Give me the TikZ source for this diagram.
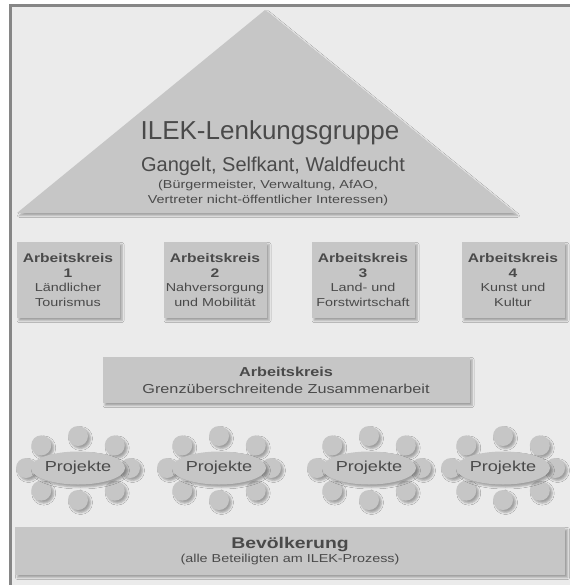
\documentclass[tikz,border=0pt]{standalone}
\usepackage{fontspec}
\setmainfont{Liberation Sans}
\newfontfamily\widesans[FakeStretch=1.25]{Liberation Sans}
\usetikzlibrary{shapes.geometric,shadows.blur}

\definecolor{bggray}{HTML}{EBEBEB}
\definecolor{panelgray}{HTML}{C6C6C6}
\definecolor{framegray}{HTML}{868686}
\definecolor{textgray}{HTML}{4A4A4A}

\newcommand{\aktitle}[1]{{\fontsize{12.5}{14.5}\selectfont\textbf{#1}}}

\tikzset{
	panel/.style={fill=panelgray, blur shadow={shadow xshift=2.5pt, shadow yshift=-2.5pt, shadow blur radius=2pt, shadow opacity=32}},
	akbox/.style={panel, rectangle, inner sep=0pt, align=center, text=textgray, font=\widesans\fontsize{11.5}{14.5}\selectfont},
	seat/.style={panel, circle, minimum size=20pt, inner sep=0pt},
	tablenode/.style={panel, ellipse, minimum width=72pt, minimum height=33pt, inner sep=0pt, text=textgray, font=\widesans\fontsize{14.5}{16}\selectfont}
}

\begin{document}
\begin{tikzpicture}[x=1pt, y=-1pt]
	\useasboundingbox (0,0) rectangle (570,585);
	\fill[white] (0,0) rectangle (570,585);
	\fill[bggray] (10,5) rectangle (570,585);
	\draw[framegray, line width=3pt] (10.5,585) -- (10.5,5.5) -- (570,5.5);

	% Lenkungsgruppe
	\path[panel] (265,10) -- (515,213) -- (17,213) -- cycle;
	\node[anchor=base, text=textgray, font=\fontsize{26}{30}\selectfont] (lenkung) at (270,140) {ILEK-Lenkungsgruppe};
	\node[anchor=base, text=textgray, font=\fontsize{20}{24}\selectfont] (gemeinden) at (273,172) {Gangelt, Selfkant, Waldfeucht};
	\node[align=center, text=textgray, font=\widesans\fontsize{11.5}{15}\selectfont] (mitglieder) at (268,193) {(Bürgermeister, Verwaltung, AfAO,\\Vertreter nicht-öffentlicher Interessen)};

	% Arbeitskreise
	\node[akbox, minimum width=103pt, minimum height=76pt] (ak1) at (68,280) {\aktitle{Arbeitskreis}\\\aktitle{1}\\Ländlicher\\Tourismus};
	\node[akbox, minimum width=103pt, minimum height=76pt] (ak2) at (215,280) {\aktitle{Arbeitskreis}\\\aktitle{2}\\Nahversorgung\\und Mobilität};
	\node[akbox, minimum width=103pt, minimum height=76pt] (ak3) at (363,280) {\aktitle{Arbeitskreis}\\\aktitle{3}\\Land- und\\Forstwirtschaft};
	\node[akbox, minimum width=103pt, minimum height=76pt] (ak4) at (513,280) {\aktitle{Arbeitskreis}\\\aktitle{4}\\Kunst und\\Kultur};
	\node[akbox, minimum width=367pt, minimum height=46pt, font=\widesans\fontsize{13}{17}\selectfont] (akgrenz) at (286,380) {\textbf{Arbeitskreis}\\Grenzüberschreitende Zusammenarbeit};

	% Projekte
	\foreach \cx/\id in {78/a, 219/b, 369/c, 503/d}{
		\begin{scope}[shift={(\cx,468)}]
			\foreach \ang in {0,45,...,315}
				\node[seat] (seat\id-\ang) at (\ang:52 and 32) {};
			\node[tablenode] (projekt\id) at (0,0) {Projekte};
		\end{scope}
	}

	% Bevoelkerung
	\node[akbox, minimum width=550pt, minimum height=48pt] (bevoelkerung) at (290,551) {{\fontsize{15.5}{17}\selectfont\textbf{Bevölkerung}}\\(alle Beteiligten am ILEK-Prozess)};
\end{tikzpicture}
\end{document}
